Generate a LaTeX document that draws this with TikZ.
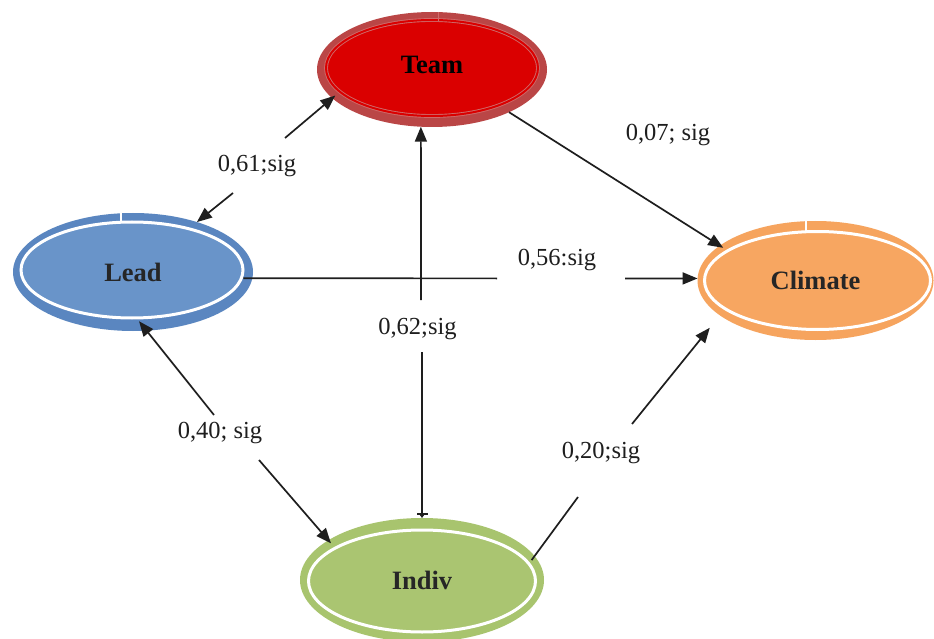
\documentclass[tikz,border=0pt]{standalone}
\usepackage{fontspec}
\setmainfont{Liberation Serif}
\usetikzlibrary{shapes.geometric,arrows.meta}

\definecolor{leadring}{HTML}{5A86C0}
\definecolor{leadfill}{HTML}{6994C9}
\definecolor{climring}{HTML}{F6A45E}
\definecolor{climfill}{HTML}{F7A661}
\definecolor{indivring}{HTML}{A8C46E}
\definecolor{indivfill}{HTML}{AAC571}
\definecolor{teamring}{HTML}{BA4646}
\definecolor{teamfill}{HTML}{DA0000}
\definecolor{teamline}{HTML}{CF6A6A}
\definecolor{linec}{HTML}{1E1E1E}
\definecolor{namec}{HTML}{262626}

\begin{document}
\begin{tikzpicture}[x=1pt,y=-1pt,
  conn/.style={draw=linec, line width=1.7pt},
  tip/.style={-{Triangle[length=15pt,width=12pt]}},
  teebar/.style={-{Bar[width=11pt,line width=1.6pt]Triangle[length=3pt,width=4pt]}},
  val/.style={font=\fontsize{24.5}{28}\selectfont, text=linec, inner sep=0pt, anchor=base},
  namefont/.style={font=\fontsize{26.5}{30}\bfseries\selectfont, text=namec},
  % ring colour, fill colour, outer width, outer height, inner radii, inner offset
  bubble/.style n args={8}{ellipse, inner sep=0pt, outer sep=0pt, fill=#1,
    minimum width=#3, minimum height=#4, namefont,
    path picture={\draw[white, line width=3pt, fill=#2]
      ([shift={(#7,#8)}]path picture bounding box.center)
      ellipse [x radius=#5, y radius=#6];}},
  teambubble/.style={ellipse, inner sep=0pt, outer sep=0pt, fill=teamring,
    minimum width=230pt, minimum height=115pt, namefont, text=black,
    path picture={\draw[teamline, line width=0.9pt, double=teamfill,
      double distance=2pt, fill=teamfill]
      ([shift={(0,-1.5)}]path picture bounding box.center)
      ellipse [x radius=106pt, y radius=48pt];}},
]
\fill[white] (0,0) rectangle (934,639);
\useasboundingbox (0,0) rectangle (934,639);

% the four concepts
\node[teambubble] (Team) at (432,69.5) {\raisebox{10pt}{Team}};
\node[bubble={leadring}{leadfill}{240pt}{118pt}{111pt}{48pt}{-1}{-2}] (Lead) at (133,272) {Lead};
\node[bubble={climring}{climfill}{236pt}{119pt}{113pt}{49pt}{2}{0}] (Climate) at (815.5,280.5) {Climate};
\node[bubble={indivring}{indivfill}{244pt}{124pt}{113.5pt}{51pt}{0}{1}] (Indiv) at (422,580) {Indiv};

% small seams in the rings
\draw[white, line width=1.2pt] (121,212) -- (121,222);
\draw[white, line width=1.2pt] (806,220) -- (806,231);
\draw[teamline, line width=1pt] (438,12) -- (438,21);

% path coefficients
\node[val] (v61) at (257,172) {0,61;sig};
\node[val] (v07) at (668,141) {0,07; sig};
\node[val] (v56) at (557,265) {0,56:sig};
\node[val] (v62) at (417.5,334) {0,62;sig};
\node[val] (v40) at (220,438) {0,40; sig};
\node[val] (v20) at (601,458) {0,20;sig};

% ends of the line pieces that stop around the coefficients
\coordinate (g1a) at (233,193);
\coordinate (g1b) at (285,138);
\coordinate (g3a) at (497,278.4);
\coordinate (g3b) at (625,278.4);
\coordinate (g4a) at (421,300);
\coordinate (g4b) at (422,352);
\coordinate (g5a) at (214,415);
\coordinate (g5b) at (259,460);
\coordinate (g6a) at (578,497);
\coordinate (g6b) at (632,424);

% Lead <-> Team
\draw[conn,tip] (g1a) -- (Lead.38);
\draw[conn,tip,shorten >=-4pt] (g1b) -- (Team.196);
% Team -> Climate
\draw[conn,tip,shorten >=-4pt] (Team.331) -- (Climate.160);
% Lead -> Climate
\draw[conn,shorten <=-9pt] (Lead.357) -- (g3a);
\draw[conn,tip] (g3b) -- (Climate.179);
% Indiv -> Team
\draw[conn,tip] (g4a) -- (Team.259);
\draw[conn,teebar] (g4b) -- (Indiv.90);
% Lead <-> Indiv
\draw[conn,tip,shorten >=-12pt] (g5a) -- (Lead.283);
\draw[conn,tip,shorten >=-4pt] (g5b) -- (Indiv.157);
% Indiv -> Climate
\draw[conn,shorten <=-5pt] (Indiv.12) -- (g6a);
\draw[conn,tip,shorten >=16pt] (g6b) -- (Climate.200);
\end{tikzpicture}
\end{document}
